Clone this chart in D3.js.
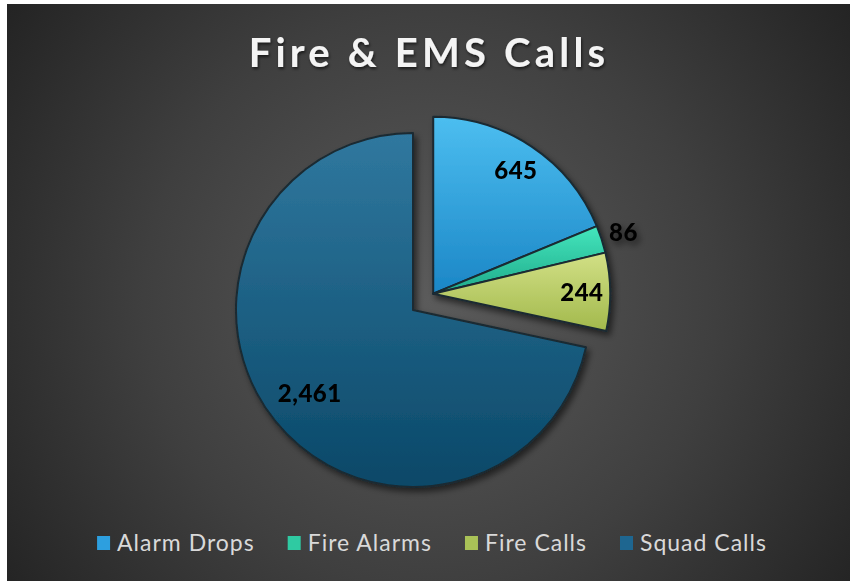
<!DOCTYPE html>
<html>
<head>
<meta charset="utf-8">
<script src="https://cdn.jsdelivr.net/npm/d3@7"></script>
<style>
  html, body { margin: 0; padding: 0; background: #fff; }
  svg { display: block; }
</style>
</head>
<body>
<script>
(function () {

    const categories = ['Alarm Drops', 'Fire Alarms', 'Fire Calls', 'Squad Calls'];
    const values = [645, 86, 244, 2461];
    const explodedSlices = ['Alarm Drops', 'Fire Alarms', 'Fire Calls'];
    const title = 'Fire & EMS Calls';

    const width = 850, height = 581;
    const cx = 413, cy = 310, radius = 177, explode = 26;

    // top / bottom colours of each slice gradient, plus legend swatch
    const colors = {
        'Alarm Drops': ['#4cbef0', '#1b86c6', '#2d9fdf'],
        'Fire Alarms': ['#44e6bd', '#1faa8a', '#2fcaa2'],
        'Fire Calls': ['#d2e086', '#a2b94c', '#a9c257'],
        'Squad Calls': ['#30789f', '#0a4868', '#1e6690']
    };

    const svg = d3.select('body')
        .append('svg')
        .attr('width', width)
        .attr('height', height);

    const defs = svg.append('defs');

    const bg = defs.append('radialGradient')
        .attr('id', 'bg')
        .attr('gradientUnits', 'userSpaceOnUse')
        .attr('cx', 430).attr('cy', 300).attr('r', 520);
    bg.append('stop').attr('offset', '0%').attr('stop-color', '#5b5b5b');
    bg.append('stop').attr('offset', '55%').attr('stop-color', '#3f3f3f');
    bg.append('stop').attr('offset', '100%').attr('stop-color', '#232323');

    categories.forEach(function (c, i) {
        const g = defs.append('linearGradient')
            .attr('id', 'grad' + i)
            .attr('x1', 0).attr('y1', 0).attr('x2', 0).attr('y2', 1);
        g.append('stop').attr('offset', '0%').attr('stop-color', colors[c][0]);
        g.append('stop').attr('offset', '100%').attr('stop-color', colors[c][1]);
    });

    const shadow = defs.append('filter')
        .attr('id', 'shadow')
        .attr('x', '-20%').attr('y', '-20%').attr('width', '140%').attr('height', '140%');
    shadow.append('feDropShadow')
        .attr('dx', 3).attr('dy', 4)
        .attr('stdDeviation', 3)
        .attr('flood-color', '#000')
        .attr('flood-opacity', 0.55);

    const textShadow = defs.append('filter').attr('id', 'tshadow');
    textShadow.append('feDropShadow')
        .attr('dx', 1).attr('dy', 2)
        .attr('stdDeviation', 1.5)
        .attr('flood-color', '#000')
        .attr('flood-opacity', 0.6);

    svg.append('rect')
        .attr('x', 7).attr('y', 4)
        .attr('width', width - 7).attr('height', height - 4)
        .attr('fill', 'url(#bg)');

    // title
    svg.append('text')
        .attr('x', 429)
        .attr('y', 67)
        .attr('text-anchor', 'middle')
        .attr('font-family', 'Lato, "DejaVu Sans", sans-serif')
        .attr('font-weight', 'bold')
        .attr('font-size', 40)
        .attr('letter-spacing', 4.2)
        .attr('fill', '#f4f4f4')
        .attr('filter', 'url(#tshadow)')
        .text(title);

    const pie = d3.pie().sort(null).value(d => d);
    const arcs = pie(values);

    const arc = d3.arc().innerRadius(0).outerRadius(radius);

    // the exploded slices move together along the bisector of their group
    const ex = arcs.filter((a, i) => explodedSlices.includes(categories[i]));
    const groupMid = (d3.min(ex, a => a.startAngle) + d3.max(ex, a => a.endAngle)) / 2;
    const offX = Math.sin(groupMid) * explode;
    const offY = -Math.cos(groupMid) * explode;

    const slices = svg.append('g')
        .attr('filter', 'url(#shadow)');

    const sliceG = slices.selectAll('g.slice')
        .data(arcs)
        .enter()
        .append('g')
        .attr('class', 'slice')
        .attr('transform', function (d, i) {
            const isEx = explodedSlices.includes(categories[i]);
            return 'translate(' + (cx + (isEx ? offX : 0)) + ',' + (cy + (isEx ? offY : 0)) + ')';
        });

    sliceG.append('path')
        .attr('d', arc)
        .attr('fill', (d, i) => 'url(#grad' + i + ')')
        .attr('stroke', '#1a2a32')
        .attr('stroke-width', 2)
        .attr('stroke-linejoin', 'round');

    // data labels
    const labelFactor = d => (d.endAngle - d.startAngle) < 0.2 ? 1.13 : (d.value > 1000 ? 0.75 : 0.84);
    sliceG.append('text')
        .attr('x', d => Math.sin((d.startAngle + d.endAngle) / 2) * radius * labelFactor(d))
        .attr('y', d => -Math.cos((d.startAngle + d.endAngle) / 2) * radius * labelFactor(d))
        .attr('dy', '0.36em')
        .attr('text-anchor', 'middle')
        .attr('font-family', 'Lato, "DejaVu Sans", sans-serif')
        .attr('font-weight', 900)
        .attr('font-size', 24)
        .attr('letter-spacing', 0.5)
        .attr('fill', '#000')
        .text(d => d3.format(',')(d.value));

    // legend
    const legend = svg.append('g');
    const items = legend.selectAll('g')
        .data(categories)
        .enter()
        .append('g');

    items.append('rect')
        .attr('width', 13)
        .attr('height', 14)
        .attr('y', -7)
        .attr('fill', d => colors[d][2]);

    items.append('text')
        .attr('x', 20)
        .attr('y', 8)
        .attr('font-family', 'Lato, "DejaVu Sans", sans-serif')
        .attr('font-size', 23)
        .attr('letter-spacing', 1)
        .attr('fill', '#d9d9d9')
        .text(d => d);

    let x = 0;
    const gap = 33;
    items.each(function () {
        const w = this.getBBox().width;
        d3.select(this).attr('data-x', x);
        x += w + gap;
    });
    const total = x - gap;
    const startX = 432 - total / 2;
    items.attr('transform', function () {
        return 'translate(' + (startX + (+d3.select(this).attr('data-x'))) + ',543)';
    });

})();
</script>
</body>
</html>
